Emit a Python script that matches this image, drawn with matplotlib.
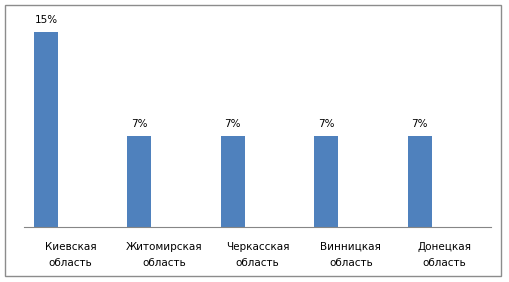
import matplotlib.pyplot as plt
from matplotlib.patches import Rectangle

regions = ['Киевская\nобласть', 'Житомирская\nобласть', 'Черкасская\nобласть',
           'Винницкая\nобласть', 'Донецкая\nобласть']
shares = [15, 7, 7, 7, 7]
share_labels = ['15%', '7%', '7%', '7%', '7%']

plt.rcParams['font.family'] = ['DejaVu Sans']

fig = plt.figure(figsize=(5.09, 2.82), dpi=100)
fig.patch.set_facecolor('white')
# outer chart frame
fig.patches.append(Rectangle((5 / 509, 6 / 282), 496 / 509, 271 / 282,
                             transform=fig.transFigure, fill=False,
                             edgecolor='#8c8c8c', linewidth=1))

ax = fig.add_axes([24 / 509, 1 - 227 / 282, 467 / 509, 208 / 282])

pos = range(len(regions))
# bars sit in the left half of each category slot
bars = ax.bar([p - 0.265 for p in pos], shares, width=0.257, color='#4F81BD')
for b, lab in zip(bars, share_labels):
    ax.annotate(lab, (b.get_x() + b.get_width() / 2, b.get_height()),
                xytext=(0, 5), textcoords='offset points', ha='center',
                va='bottom', fontsize=7.5, color='black')

ax.set_xlim(-0.5, len(regions) - 0.5)
ax.set_ylim(0, 16)
ax.set_xticks(list(pos))
ax.set_xticklabels(regions, fontsize=7.5, linespacing=1.8)
ax.tick_params(axis='x', length=0, pad=10.5)
ax.set_yticks([])
for side in ['top', 'right', 'left']:
    ax.spines[side].set_visible(False)
ax.spines['bottom'].set_color('#868686')

plt.savefig('out.png', dpi=100)
